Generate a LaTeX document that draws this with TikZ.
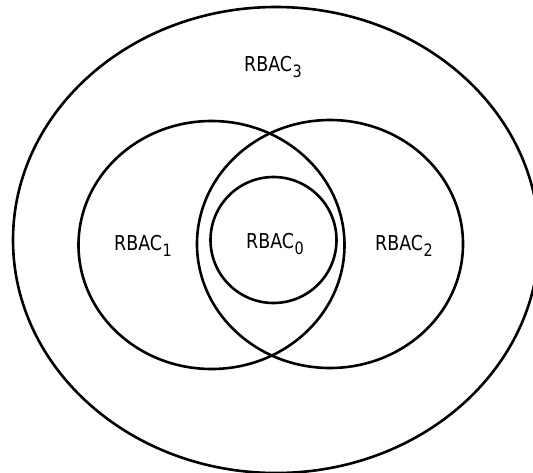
\documentclass[tikz,border=0pt]{standalone}
\usepackage{fontspec}
\setmainfont[FakeStretch=0.85]{DejaVu Sans}
\usetikzlibrary{positioning}

\newcommand{\rbac}[1]{RBAC\kern0.5pt\raisebox{-6pt}{\fontsize{17}{18}\selectfont #1}}

\begin{document}
\begin{tikzpicture}[x=1pt, y=-1pt, line width=2.6pt,
    lbl/.style={font=\fontsize{20.5}{24}\selectfont, inner sep=0pt}]
    \useasboundingbox (0,0) rectangle (533,472);
    \clip (0,0) rectangle (533,472);

    % Centres of the sets
    \coordinate (C3) at (276,240);
    \coordinate (C1) at (211.5,245);
    \coordinate (C2) at (330,244);
    \coordinate (C0) at (273.5,240);

    % Outer set RBAC3
    \draw (C3) ellipse [x radius=263, y radius=233];

    % RBAC1 and RBAC2 overlap
    \draw (C1) ellipse [x radius=133, y radius=124];
    \draw (C2) ellipse [x radius=133, y radius=124];

    % Core RBAC0
    \draw (C0) ellipse [x radius=63, y radius=63];

    % Labels
    \node[lbl] (l3) at (273,67) {\rbac{3}};
    \node[lbl] (l1) at (143,246) {\rbac{1}};
    \node[lbl] (l0) at (275,244) {\rbac{0}};
    \node[lbl] (l2) at (404,246) {\rbac{2}};

\end{tikzpicture}
\end{document}
